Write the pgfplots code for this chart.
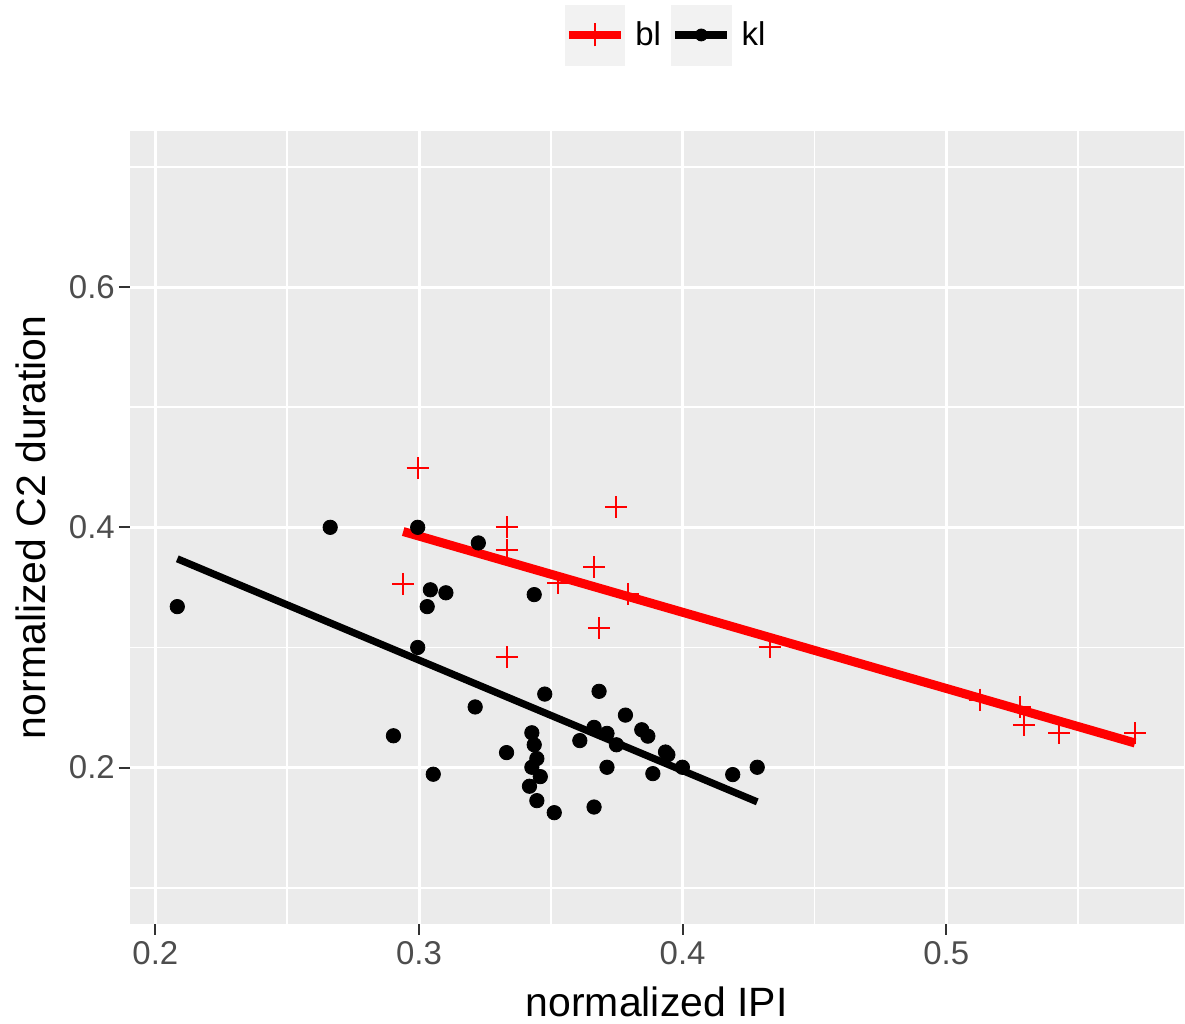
\documentclass[border=0pt]{standalone}
\usepackage{pgfplots}
\pgfplotsset{compat=1.18}
\usepackage{fontspec}
\setmainfont{Liberation Sans}
\definecolor{panelgrey}{HTML}{EBEBEB}
\definecolor{keygrey}{HTML}{F2F2F2}
\definecolor{ticklab}{HTML}{4D4D4D}
\definecolor{tickcol}{HTML}{333333}
\begin{document}
\begin{tikzpicture}
\begin{axis}[
  name=ax,
  scale only axis, width=527.5pt, height=397pt,
  xmin=0.1903, xmax=0.5900, ymin=0.07, ymax=0.73,
  axis background/.style={fill=panelgrey},
  axis line style={draw=none},
  xtick={0.2,0.3,0.4,0.5}, ytick={0.2,0.4,0.6},
  minor xtick={0.25,0.35,0.45,0.55}, minor ytick={0.1,0.3,0.5,0.7},
  xtick pos=bottom, ytick pos=left,
  tick align=outside,
  major tick length=5.5pt, minor tick length=0pt,
  tick style={color=tickcol, line width=1pt},
  grid=both,
  major grid style={white, line width=1.5pt},
  minor grid style={white, line width=0.8pt},
  /pgf/number format/assume math mode=true,
  /pgf/number format/fixed, /pgf/number format/precision=1,
  ticklabel style={font=\fontsize{16.5}{19}\selectfont, text=ticklab},
  yticklabel style={xshift=1.5pt},
  xlabel={normalized IPI}, ylabel={normalized C2 duration},
  xlabel style={font=\fontsize{20.5}{24}\selectfont, at={(axis description cs:0.5,-0.1171)}, anchor=base},
  ylabel style={font=\fontsize{20.5}{24}\selectfont, at={(axis description cs:-0.0796,0.5)}, anchor=base},
  legend columns=2,
  legend style={at={(0.5098,1.1209)}, anchor=center, draw=none, fill=none,
    font=\fontsize{16.5}{19}\selectfont, /tikz/column sep=3pt},
  clip=true,
]
\addplot[red, line width=4.5pt, forget plot] coordinates {(0.2940,0.3965) (0.5716,0.2205)};
\addplot[black, line width=3.6pt, forget plot] coordinates {(0.2083,0.3738) (0.4283,0.1715)};
\addplot[only marks, mark=+, red, mark size=5.5pt, mark options={line width=1pt},
  legend image code/.code={
    \fill[keygrey] (0pt,-15pt) rectangle (30pt,15pt);
    \draw[red, line width=4pt] (2pt,0pt) -- (28pt,0pt);
    \draw[red, line width=1pt] (15pt,-5.75pt) -- (15pt,5.75pt);
  }] table {
0.2995 0.4495
0.2940 0.3530
0.3332 0.4000
0.3332 0.3813
0.3749 0.4168
0.3528 0.3536
0.3664 0.3669
0.3793 0.3447
0.3683 0.3162
0.3332 0.2920
0.4330 0.3004
0.5127 0.2566
0.5279 0.2502
0.5294 0.2358
0.5428 0.2286
0.5716 0.2286
};
\addlegendentry{bl}
\addplot[only marks, mark=*, black, mark size=3.6pt,
  legend image code/.code={
    \fill[keygrey] (0pt,-15pt) rectangle (30pt,15pt);
    \draw[black, line width=4pt] (2pt,0pt) -- (28pt,0pt);
    \fill[black] (15pt,0pt) circle (3pt);
  }] table {
0.2083 0.3340
0.2663 0.4000
0.2995 0.4000
0.3225 0.3870
0.3043 0.3480
0.3102 0.3455
0.3031 0.3340
0.3437 0.3440
0.2995 0.3000
0.2903 0.2265
0.3054 0.1945
0.3213 0.2505
0.3332 0.2125
0.3477 0.2612
0.3428 0.2290
0.3437 0.2190
0.3447 0.2075
0.3428 0.2003
0.3460 0.1925
0.3419 0.1845
0.3447 0.1725
0.3513 0.1625
0.3610 0.2225
0.3664 0.2335
0.3683 0.2635
0.3713 0.2285
0.3713 0.2003
0.3749 0.2190
0.3783 0.2437
0.3845 0.2315
0.3868 0.2262
0.3887 0.1950
0.3935 0.2130
0.3944 0.2108
0.3999 0.2003
0.3664 0.1672
0.4190 0.1942
0.4283 0.2003
};
\addlegendentry{kl}
\end{axis}
\path ([shift={(-65pt,-49pt)}]ax.south west) rectangle ([shift={(0pt,65.5pt)}]ax.north east);
\end{tikzpicture}
\end{document}
